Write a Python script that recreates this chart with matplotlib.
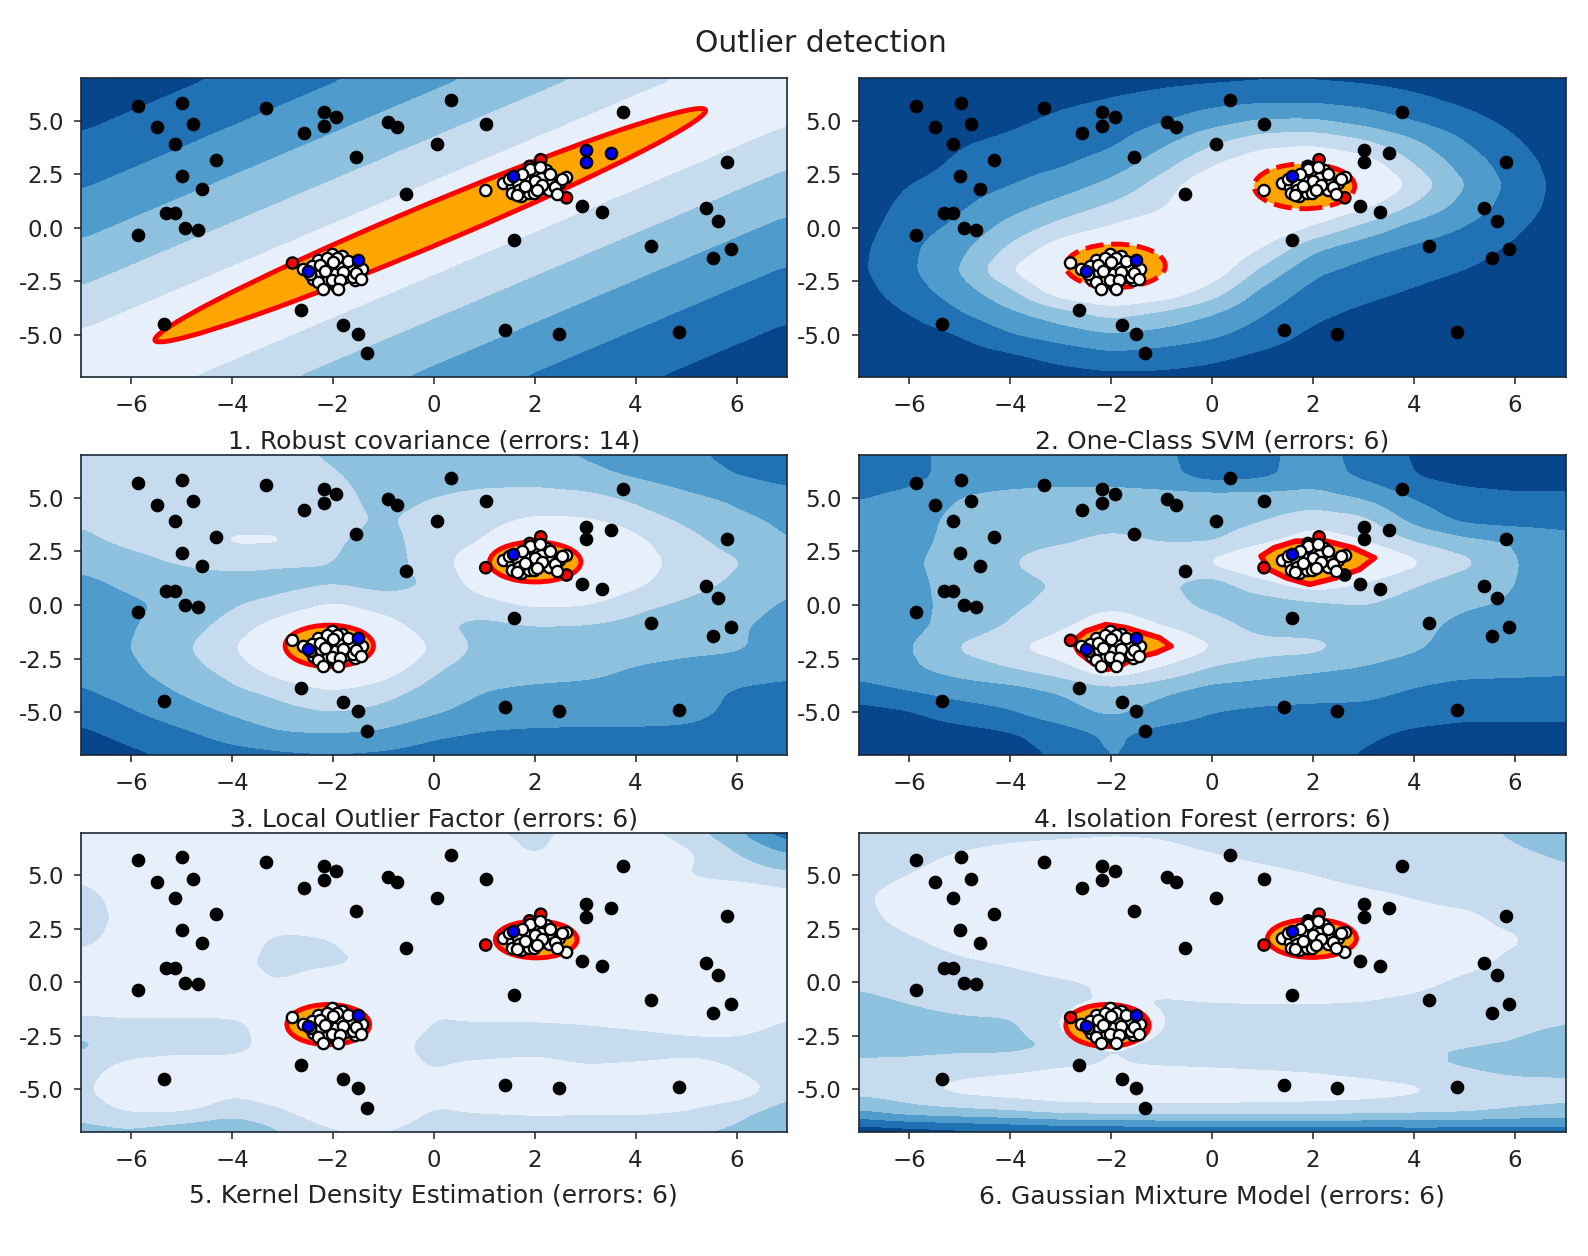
import numpy as np
import matplotlib
matplotlib.use('Agg')
import matplotlib.pyplot as plt
from matplotlib.patches import Ellipse, Polygon

# points, same in every panel
outliers_x = [-5.87, -4.98, -5.48, -4.77, -5.13, -4.31, -4.99, -4.60, -5.30, -5.13, -4.92, -4.67, -5.87,
              -3.32, -2.18, -1.93, -2.18, -2.57, -0.90, -0.72, -1.54, -0.54, -2.64, -1.79, -1.51, -1.33, -5.35,
              0.35, 1.03, 0.07, 3.76, 5.82, 2.94, 3.33, 5.39, 5.64, 1.59, 4.30, 5.89, 5.54, 1.42, 2.48, 4.86]
outliers_y = [5.70, 5.85, 4.69, 4.84, 3.92, 3.18, 2.43, 1.82, 0.67, 0.67, -0.02, -0.10, -0.34,
              5.61, 5.43, 5.19, 4.76, 4.42, 4.94, 4.69, 3.33, 1.59, -3.86, -4.53, -4.95, -5.87, -4.50,
              5.95, 4.84, 3.92, 5.43, 3.08, 1.00, 0.75, 0.90, 0.33, -0.59, -0.84, -1.01, -1.43, -4.78, -4.95, -4.88]
inliers_x = [1.38, 1.55, 1.81, 2.09, 2.24, 2.63, 1.73, 1.92, 2.02, 2.22, 1.91, 1.66, 2.35, 1.56, 1.89, 2.12, 2.49, 2.29, 1.69, 1.99,
             1.50, 1.75, 2.00, 2.15, 2.40, 1.80, 2.05, 2.55, 2.30, 1.65, 2.45, 2.10,
             -2.39, -2.24, -2.29, -2.01, -1.81, -1.86, -1.68, -1.43, -1.98, -2.11, -2.13, -1.94, -1.75, -1.56, -2.01, -1.91, -2.11, -2.41, -1.61, -2.59,
             -2.25, -2.15, -1.80, -1.70, -2.30, -1.85, -1.55, -2.45, -2.00, -1.90, -1.45, -2.20]
inliers_y = [2.09, 1.90, 2.24, 1.82, 2.24, 2.35, 1.49, 1.93, 2.55, 2.68, 2.74, 2.09, 2.09, 1.62, 1.62, 2.32, 2.09, 1.77, 1.77, 1.62,
             2.30, 2.50, 2.20, 2.00, 1.90, 1.95, 1.75, 2.30, 2.50, 1.55, 1.60, 2.85,
             -2.38, -2.12, -1.53, -1.22, -1.34, -1.84, -1.78, -1.93, -2.15, -1.84, -2.54, -2.70, -2.32, -2.46, -2.43, -1.42, -1.42, -1.81, -2.28, -1.93,
             -1.75, -2.00, -2.05, -1.55, -2.55, -2.45, -2.10, -2.15, -1.60, -2.85, -2.40, -2.85]
trio_x = [3.01, 3.01, 3.51]
trio_y = [3.64, 3.07, 3.49]
blue_x = [-2.50, -1.51, 1.58]
blue_y = [-2.04, -1.53, 2.40]
# candidates that change colour between panels
edge_x = [-2.80, 1.03, 2.12, 1.90, 2.63]
edge_y = [-1.65, 1.74, 3.18, 2.87, 1.40]
edge_colors = [
    ['red', 'white', 'red', 'red', 'red'],
    ['white', 'white', 'red', 'black', 'red'],
    ['white', 'red', 'red', 'red', 'red'],
    ['red', 'red', 'red', 'black', 'black'],
    ['white', 'red', 'red', 'red', 'white'],
    ['red', 'red', 'red', 'black', 'white'],
]

titles = ['1. Robust covariance (errors: 14)', '2. One-Class SVM (errors: 6)',
          '3. Local Outlier Factor (errors: 6)', '4. Isolation Forest (errors: 6)',
          '5. Kernel Density Estimation (errors: 6)', '6. Gaussian Mixture Model (errors: 6)']
xticks = [-6, -4, -2, 0, 2, 4, 6]
yticks = [-5.0, -2.5, 0.0, 2.5, 5.0]
ytick_labels = ['-5.0', '-2.5', '0.0', '2.5', '5.0']

grid_x = list(range(-7, 8))
grid_y = list(range(7, -8, -1))

# band level read per grid cell (rows y=7..-7, columns x=-7..7)
robust_z = [
    [.2, .5, .8, 1.15, 1.52, 1.89, 2.3, 2.74, 3.18, 3.64, 4.1, 4.6, 5.09, 5.55, 6],
    [.5, .8, 1.15, 1.52, 1.89, 2.3, 2.74, 3.18, 3.64, 4.1, 4.6, 5.09, 5.55, 6, 5.55],
    [.8, 1.15, 1.52, 1.89, 2.3, 2.74, 3.18, 3.64, 4.1, 4.6, 5.09, 5.55, 6, 5.55, 5.09],
    [1.15, 1.52, 1.89, 2.3, 2.74, 3.18, 3.64, 4.1, 4.6, 5.09, 5.55, 6, 5.55, 5.09, 4.6],
    [1.52, 1.89, 2.3, 2.74, 3.18, 3.64, 4.1, 4.6, 5.09, 5.55, 6, 5.55, 5.09, 4.6, 4.1],
    [1.89, 2.3, 2.74, 3.18, 3.64, 4.1, 4.6, 5.09, 5.55, 6, 5.55, 5.09, 4.6, 4.1, 3.64],
    [2.3, 2.74, 3.18, 3.64, 4.1, 4.6, 5.09, 5.55, 6, 5.55, 5.09, 4.6, 4.1, 3.64, 3.18],
    [2.74, 3.18, 3.64, 4.1, 4.6, 5.09, 5.55, 6, 5.55, 5.09, 4.6, 4.1, 3.64, 3.18, 2.74],
    [3.18, 3.64, 4.1, 4.6, 5.09, 5.55, 6, 5.55, 5.09, 4.6, 4.1, 3.64, 3.18, 2.74, 2.3],
    [3.64, 4.1, 4.6, 5.09, 5.55, 6, 5.55, 5.09, 4.6, 4.1, 3.64, 3.18, 2.74, 2.3, 1.89],
    [4.1, 4.6, 5.09, 5.55, 6, 5.55, 5.09, 4.6, 4.1, 3.64, 3.18, 2.74, 2.3, 1.89, 1.52],
    [4.6, 5.09, 5.55, 6, 5.55, 5.09, 4.6, 4.1, 3.64, 3.18, 2.74, 2.3, 1.89, 1.52, 1.15],
    [5.09, 5.55, 6, 5.55, 5.09, 4.6, 4.1, 3.64, 3.18, 2.74, 2.3, 1.89, 1.52, 1.15, .8],
    [5.55, 6, 5.55, 5.09, 4.6, 4.1, 3.64, 3.18, 2.74, 2.3, 1.89, 1.52, 1.15, .8, .5],
    [6, 5.55, 5.09, 4.6, 4.1, 3.64, 3.18, 2.74, 2.3, 1.89, 1.52, 1.15, .8, .5, .2],
]
svm_z = [
    [0, 0, 0, .1, .3, .5, .7, .8, .9, .9, .8, .6, .3, .1, 0],
    [0, 0, .1, .4, .8, 1.04, 1.3, 1.6, 1.76, 1.77, 1.56, 1.2, .75, .3, .1],
    [0, .1, .4, .8, 1.2, 1.42, 1.9, 2.57, 3.1, 3.1, 2.6, 1.95, 1.36, .7, .2],
    [.1, .2, .9, 1.2, 1.53, 1.8, 2.73, 3.8, 4.6, 4.8, 4.17, 3.15, 2.0, 1.1, .35],
    [.2, .5, 1.2, 1.58, 1.86, 2.39, 3.55, 4.85, 5.8, 6, 5.6, 3.95, 2.55, 1.45, .5],
    [.3, 1.0, 1.5, 1.96, 2.48, 3.26, 4.4, 5.9, 7, 8, 6.5, 4.7, 3.0, 1.65, .6],
    [.4, 1.3, 1.85, 2.6, 3.35, 4.15, 4.8, 6.5, 7, 6.2, 5.2, 3.85, 2.6, 1.5, .55],
    [.55, 1.6, 2.2, 3.37, 4.38, 5.1, 5.8, 6.8, 6, 4.8, 3.65, 2.55, 1.95, 1.15, .4],
    [.75, 1.8, 2.7, 4.2, 5.6, 6.5, 6.8, 6.2, 4.9, 3.15, 2.3, 1.8, 1.45, .8, .3],
    [.8, 1.8, 3.0, 4.95, 6.5, 8, 6.8, 5.7, 3.7, 2.2, 1.67, 1.3, .98, .5, .2],
    [.6, 1.5, 2.5, 3.72, 5.6, 6.3, 5.8, 4.5, 2.7, 1.65, 1.25, .9, .6, .3, .1],
    [.4, 1.0, 1.9, 2.78, 3.55, 4.37, 3.78, 3.05, 2.05, 1.2, .8, .5, .35, .2, .1],
    [.2, .5, 1.0, 1.92, 2.44, 2.9, 2.63, 2.2, 1.45, .8, .5, .3, .2, .1, 0],
    [.1, .3, .5, .8, 1.33, 1.73, 1.54, 1.2, .8, .5, .3, .2, .1, 0, 0],
    [0, .1, .2, .4, .5, .7, .7, .6, .4, .3, .2, .1, .1, 0, 0],
]
lof_z = [
    [4.3, 4.3, 4.3, 4.3, 4.2, 3.9, 3.5, 3.5, 3.4, 3.3, 2.9, 2.5, 2.2, 1.7, 1.3],
    [4.4, 4.4, 4.5, 4.4, 4.2, 4.1, 3.6, 3.5, 3.6, 3.6, 3.3, 2.9, 2.5, 2.0, 1.7],
    [4.3, 4.5, 4.5, 4.5, 4.4, 4.3, 3.7, 4.0, 4.3, 4.4, 4.3, 3.8, 3.2, 2.8, 2.3],
    [4.1, 4.4, 4.5, 4.6, 4.5, 4.3, 3.9, 4.3, 4.5, 5.1, 5.0, 4.4, 3.8, 3.2, 2.8],
    [3.8, 4.2, 4.5, 5.15, 5.15, 4.1, 3.7, 4.4, 5.0, 7, 7, 5.2, 4.3, 3.6, 3.0],
    [3.3, 3.7, 4.1, 4.3, 4.1, 4.0, 3.6, 4.4, 6, 8, 8, 5.6, 4.5, 4.1, 3.2],
    [2.7, 3.2, 3.5, 3.6, 3.7, 3.9, 3.7, 4.1, 5.6, 7, 6.5, 5.2, 4.4, 3.8, 3.1],
    [2.5, 2.8, 3.3, 3.9, 4.3, 5.1, 4.4, 4.2, 4.5, 5.1, 5.0, 4.2, 3.8, 3.3, 2.9],
    [2.4, 2.9, 3.6, 4.3, 5.6, 7, 5.6, 4.2, 3.7, 3.95, 3.9, 3.7, 3.5, 3.1, 2.7],
    [2.4, 3.0, 3.8, 4.8, 7, 8, 7, 4.7, 3.7, 3.5, 3.5, 3.5, 3.3, 3.1, 2.6],
    [2.2, 2.8, 3.6, 4.3, 5.6, 7, 5.6, 4.1, 3.5, 3.4, 3.3, 2.9, 2.6, 2.5, 2.3],
    [1.9, 2.4, 3.1, 3.8, 4.3, 4.9, 4.4, 3.6, 3.0, 2.8, 2.7, 2.6, 2.5, 1.9, 1.7],
    [1.3, 1.9, 2.5, 3.1, 3.7, 4.0, 3.7, 3.1, 2.6, 2.5, 2.4, 2.4, 2.4, 1.7, 1.4],
    [.8, 1.3, 1.8, 2.4, 2.9, 3.0, 2.8, 2.2, 1.9, 1.8, 1.8, 1.8, 1.7, 1.4, 1.2],
    [.3, .8, 1.2, 1.6, 1.8, 1.9, 1.8, 1.5, 1.4, 1.3, 1.3, 1.3, 1.2, 1.1, 1.0],
]
forest_z = [
    [1.5, 1.6, 2.5, 2.5, 2.5, 2.5, 2.2, 1.5, 1.7, 2.5, 1.6, .9, .5, .5, .5],
    [1.5, 1.6, 2.5, 2.5, 2.5, 2.5, 2.3, 1.6, 1.8, 2.5, 1.8, 1.0, .6, .5, .5],
    [1.9, 2.3, 3.0, 3.3, 3.5, 3.5, 3.4, 3.4, 3.4, 3.4, 2.9, 1.9, 1.4, 1.2, 1.2],
    [2.5, 2.5, 3.3, 3.5, 3.5, 3.5, 3.5, 3.5, 3.9, 4.5, 4.2, 2.6, 1.7, 1.5, 1.5],
    [2.5, 2.6, 3.4, 3.6, 3.8, 4.3, 3.9, 3.9, 4.7, 5.6, 5.0, 3.9, 3.2, 2.9, 2.4],
    [2.5, 2.8, 3.5, 3.9, 4.7, 4.8, 4.8, 5.1, 6.5, 7, 6.5, 5.2, 4.3, 3.0, 2.5],
    [2.5, 2.7, 3.4, 3.6, 4.1, 4.6, 4.2, 3.5, 4.6, 5.6, 4.9, 4.1, 3.4, 3.0, 2.5],
    [2.6, 2.8, 3.2, 3.8, 4.3, 4.8, 4.4, 3.7, 3.4, 3.7, 4.0, 3.5, 3.1, 2.9, 2.6],
    [2.5, 2.7, 3.4, 4.1, 4.8, 5.7, 5.0, 4.4, 3.6, 3.6, 3.6, 3.3, 2.7, 2.5, 2.5],
    [2.5, 2.9, 4.1, 4.8, 5.6, 7, 6.2, 5.0, 4.4, 4.3, 3.5, 3.1, 2.6, 2.5, 2.5],
    [2.4, 2.8, 3.4, 3.9, 4.5, 5.8, 4.8, 3.8, 3.4, 3.1, 2.9, 2.6, 2.4, 2.3, 2.2],
    [1.6, 2.0, 2.4, 2.6, 3.1, 3.6, 3.2, 2.6, 2.5, 2.4, 2.3, 1.9, 1.5, 1.5, 1.5],
    [.6, .9, 1.5, 1.9, 2.6, 3.2, 2.6, 2.0, 1.8, 1.7, 1.7, 1.5, 1.3, 1.3, 1.3],
    [.5, .5, .6, .9, 1.5, 2.2, 1.6, 1.5, 1.5, 1.5, 1.2, .8, .6, .6, .6],
    [.5, .5, .5, .5, 1.2, 2.1, 1.5, 1.5, 1.5, 1.4, .9, .5, .5, .5, .5],
]
kde_z = [
    [5.4, 5.6, 5.8, 5.8, 5.8, 5.8, 5.8, 5.6, 5.2, 4.7, 5.4, 5.4, 4.5, 3.2, 1.3],
    [5.4, 6, 6, 6, 6, 6, 6, 6, 5.6, 4.9, 5.6, 6, 5.2, 4.0, 3.0],
    [5.2, 6, 6, 6, 6, 6, 6, 6, 6, 5.8, 5.8, 6, 5.0, 4.6, 4.2],
    [4.5, 5.6, 6, 6, 6, 6, 6, 6, 6, 6, 6, 5.8, 5.6, 6, 5.4],
    [4.4, 5.4, 6, 6, 6, 5.8, 6, 6, 6, 6, 6, 6, 6, 6, 5.4],
    [4.6, 5.6, 6, 5.8, 4.6, 5.0, 6, 6, 6, 6, 6, 6, 6, 6, 4.9],
    [5.4, 6, 6, 5.4, 4.5, 4.6, 5.6, 5.8, 6, 6, 6, 6, 6, 6, 5.4],
    [5.8, 6, 6, 5.4, 5.0, 6, 5.8, 5.1, 5.6, 6, 6, 6, 6, 6, 5.6],
    [5.8, 5.8, 5.8, 5.6, 5.8, 6.2, 6, 5.1, 5.6, 6, 5.8, 6, 6, 6, 5.6],
    [4.3, 4.6, 4.6, 4.7, 5.6, 7, 6, 4.9, 4.9, 4.8, 5.0, 5.3, 5.6, 5.6, 4.8],
    [3.8, 4.4, 4.6, 4.7, 5.4, 6.2, 5.8, 4.4, 4.0, 4.3, 3.8, 3.9, 4.4, 4.5, 4.0],
    [4.5, 5.4, 5.6, 5.4, 5.4, 6, 5.8, 4.9, 5.6, 5.8, 5.2, 5.4, 5.6, 4.9, 3.9],
    [4.7, 6, 6, 5.2, 5.6, 6, 6, 5.4, 6, 6, 5.6, 6, 6, 5.8, 4.3],
    [4.4, 5.1, 5.1, 4.5, 4.9, 5.8, 5.8, 4.9, 5.1, 5.2, 5.2, 5.2, 5.0, 4.3, 3.6],
    [3.6, 3.8, 3.3, 2.8, 4.0, 4.9, 5.0, 4.5, 4.3, 4.3, 4.2, 4.2, 4.1, 3.8, 3.0],
]
gmm_z = [
    [4.2, 4.4, 4.5, 4.7, 4.8, 4.9, 4.9, 4.7, 4.4, 4.3, 4.3, 4.3, 4.2, 3.9, 3.5],
    [4.4, 4.7, 5.05, 5.3, 5.4, 5.4, 5.2, 5.0, 4.8, 4.6, 4.4, 4.3, 4.3, 4.1, 3.9],
    [4.5, 5.0, 5.4, 5.5, 5.6, 5.6, 5.6, 5.4, 5.2, 5.0, 4.7, 4.5, 4.4, 4.3, 4.1],
    [4.8, 5.5, 5.6, 5.7, 5.8, 5.8, 5.8, 5.7, 5.6, 5.4, 5.2, 4.95, 4.7, 4.5, 4.3],
    [4.7, 5.3, 5.6, 5.8, 5.9, 5.9, 5.9, 5.8, 5.8, 5.7, 5.6, 5.3, 5.2, 4.7, 4.4],
    [4.5, 4.9, 5.3, 5.6, 5.8, 5.9, 5.9, 5.9, 5.9, 5.8, 5.7, 5.5, 5.3, 5.1, 4.5],
    [4.3, 4.6, 4.9, 5.1, 5.4, 5.6, 5.7, 5.8, 5.8, 5.8, 5.7, 5.5, 5.3, 4.8, 4.4],
    [4.1, 4.3, 4.5, 4.7, 4.9, 5.1, 5.4, 5.6, 5.7, 5.7, 5.5, 5.3, 4.8, 4.5, 4.2],
    [3.8, 4.0, 4.2, 4.4, 4.6, 5.2, 4.85, 4.95, 5.0, 5.0, 4.95, 4.7, 4.3, 4.2, 4.1],
    [3.6, 3.7, 3.8, 3.8, 4.9, 9, 4.9, 4.4, 4.3, 4.3, 4.3, 4.2, 4.2, 4.1, 4.0],
    [3.6, 3.6, 3.7, 3.7, 4.1, 5.1, 4.4, 4.2, 4.2, 4.2, 4.1, 4.0, 4.0, 3.95, 3.7],
    [4.3, 4.4, 4.6, 4.7, 5.0, 5.05, 5.05, 5.0, 4.9, 4.8, 4.5, 4.1, 3.95, 3.7, 3.7],
    [4.4, 4.7, 5.3, 5.6, 5.8, 5.8, 5.8, 5.8, 5.7, 5.6, 5.5, 5.2, 4.7, 4.4, 4.3],
    [3.0, 3.6, 3.8, 4.0, 4.4, 4.5, 4.5, 4.5, 4.5, 4.5, 4.4, 4.3, 4.2, 3.9, 3.8],
    [.2, .4, .6, .8, .9, 1.0, 1.1, 1.1, 1.2, 1.2, 1.2, 1.3, 1.3, 1.3, 1.3],
]
panel_z = [robust_z, svm_z, lof_z, forest_z, kde_z, gmm_z]

# threshold outlines: centre x, centre y, width, height, angle
robust_shapes = [(-0.07, 0.12, 15.36, 1.48, 45)]
svm_shapes = [(-1.91, -1.78, 1.97, 2.03, 0), (1.83, 1.94, 1.99, 2.10, 0)]
lof_shapes = [(-2.07, -1.91, 1.75, 1.94, 0), (2.01, 2.01, 1.81, 1.87, 0)]
kde_shapes = [(-2.09, -1.98, 1.64, 1.88, 0), (2.03, 2.00, 1.62, 1.72, 0)]
gmm_shapes = [(-2.07, -2.02, 1.65, 1.97, 0), (1.98, 2.05, 1.76, 1.78, 0)]
panel_shapes = [robust_shapes, svm_shapes, lof_shapes, [], kde_shapes, gmm_shapes]
# isolation forest outline is not elliptical
forest_left_x = [-2.76, -2.50, -2.10, -1.70, -1.37, -1.04, -0.81, -1.11, -1.51, -1.77, -2.07, -2.37, -2.63]
forest_left_y = [-1.69, -1.22, -0.91, -1.06, -1.30, -1.53, -1.92, -2.23, -2.46, -2.78, -3.01, -2.70, -2.23]
forest_right_x = [0.97, 1.23, 1.66, 2.26, 2.79, 3.22, 2.92, 2.46, 1.93, 1.47, 1.13]
forest_right_y = [2.28, 2.67, 2.98, 2.98, 2.67, 2.20, 1.66, 1.27, 0.96, 1.27, 1.66]

W, H = 1588, 1256
left_px = [80.5, 858.5]
right_px = [787, 1565.5]
top_px = [78, 455, 832.5]
bottom_px = [377.5, 755, 1132]
MARKER = 66
EDGE = 1.7


def soften(z):
    # coarse read-off grid -> finer grid so the bands do not look polygonal
    z = np.array(z, dtype=float)
    n = 8
    fine = np.linspace(0, 14, 14 * n + 1)
    idx = np.arange(15)
    z = np.array([np.interp(fine, idx, row) for row in z])
    z = np.array([np.interp(fine, idx, col) for col in z.T]).T
    k = np.ones(5) / 5
    pad = 2
    z = np.pad(z, pad, mode='edge')
    z = np.apply_along_axis(lambda r: np.convolve(r, k, mode='same'), 0, z)
    z = np.apply_along_axis(lambda r: np.convolve(r, k, mode='same'), 1, z)
    return np.clip(z[pad:-pad, pad:-pad], 0.02, 5.98), fine


fig = plt.figure(figsize=(W / 100, H / 100), dpi=100)

for i in range(6):
    col = i % 2
    row = i // 2
    ax = fig.add_axes([left_px[col] / W, 1 - bottom_px[row] / H,
                       (right_px[col] - left_px[col]) / W, (bottom_px[row] - top_px[row]) / H])
    zz, fine = soften(panel_z[i])
    xx = grid_x[0] + fine
    yy = grid_y[0] - fine
    ax.contourf(xx, yy, zz, levels=np.linspace(0, 6, 7), cmap=plt.cm.Blues_r)

    # threshold region
    style = '--' if i == 1 else '-'
    for cx, cy, w, h, ang in panel_shapes[i]:
        ax.add_patch(Ellipse((cx, cy), w, h, angle=ang, facecolor='orange', edgecolor='red',
                             linewidth=3.5, linestyle=style, zorder=2))
    if i == 3:
        for px_, py_ in [(forest_left_x, forest_left_y), (forest_right_x, forest_right_y)]:
            ax.add_patch(Polygon(np.column_stack([px_, py_]), closed=True, facecolor='orange',
                                 edgecolor='red', linewidth=4, joinstyle='round', zorder=2))

    ax.scatter(outliers_x, outliers_y, s=MARKER, c='black', edgecolors='k', linewidths=EDGE, zorder=3)
    trio_c = 'blue' if i == 0 else 'black'
    ax.scatter(trio_x, trio_y, s=MARKER, c=trio_c, edgecolors='k', linewidths=EDGE, zorder=3)
    ax.scatter(edge_x, edge_y, s=MARKER, c=edge_colors[i], edgecolors='k', linewidths=EDGE, zorder=4)
    ax.scatter(inliers_x, inliers_y, s=MARKER, c='white', edgecolors='k', linewidths=EDGE, zorder=5)
    ax.scatter(blue_x, blue_y, s=MARKER, c='blue', edgecolors='k', linewidths=EDGE, zorder=6)

    ax.set_xlim(-7, 7)
    ax.set_ylim(-7, 7)
    ax.set_xticks(xticks)
    ax.set_yticks(yticks)
    ax.set_yticklabels(ytick_labels)
    ax.tick_params(labelsize=16.5, width=1.1, length=5, pad=7, colors='#222222')
    ax.set_xlabel(titles[i], fontsize=18, color='#222222', labelpad=9)
    for s in ax.spines.values():
        s.set_linewidth(1.2)
        s.set_color('#1c2733')

fig.text(821 / W, 1 - 43 / H, 'Outlier detection', fontsize=21.5, color='#222222', ha='center', va='center')
fig.savefig('out.png', dpi=100)
